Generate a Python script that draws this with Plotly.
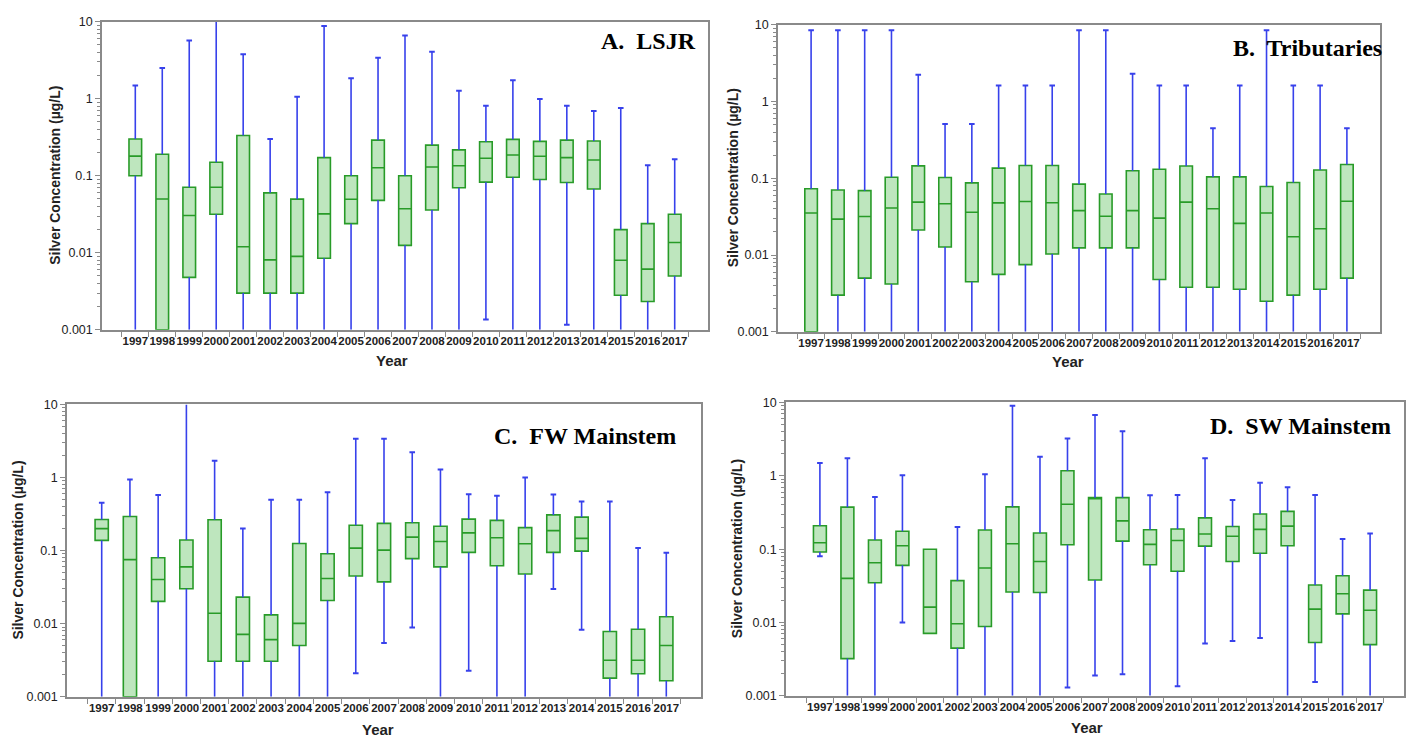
import plotly.graph_objects as go

years = [str(y) for y in range(1997, 2018)]

# ---- Panel A: LSJR ----
a_upper = [1.49, 2.5, 5.7, 10, 3.77, 0.30, 1.06, 8.8, 1.85, 3.4, 6.6, 4.07, 1.27, 0.81, 1.74, 0.99, 0.81, 0.695, 0.76, 0.137, 0.164]
a_q3    = [0.30, 0.19, 0.071, 0.15, 0.334, 0.06, 0.0497, 0.172, 0.1, 0.29, 0.1, 0.25, 0.217, 0.277, 0.297, 0.28, 0.29, 0.283, 0.02, 0.0239, 0.0317]
a_med   = [0.18, 0.05, 0.0305, 0.071, 0.012, 0.0081, 0.009, 0.032, 0.0496, 0.127, 0.0374, 0.13, 0.135, 0.169, 0.186, 0.179, 0.172, 0.16, 0.008, 0.00614, 0.0136]
a_q1    = [0.1, 0.001, 0.0048, 0.0317, 0.003, 0.003, 0.003, 0.0085, 0.0239, 0.048, 0.0125, 0.036, 0.07, 0.0826, 0.0955, 0.0893, 0.0818, 0.0673, 0.00281, 0.00233, 0.005]
a_lower = [0.001, 0.001, 0.001, 0.001, 0.001, 0.001, 0.001, 0.001, 0.001, 0.001, 0.001, 0.001, 0.001, 0.00136, 0.001, 0.001, 0.00116, 0.001, 0.001, 0.001, 0.001]

# ---- Panel B: Tributaries ----
b_upper = [8.46, 8.46, 8.46, 8.46, 2.23, 0.51, 0.51, 1.61, 1.61, 1.61, 8.46, 8.46, 2.3, 1.61, 1.61, 0.449, 1.61, 8.46, 1.61, 1.61, 0.449]
b_q3    = [0.073, 0.0703, 0.0689, 0.103, 0.145, 0.102, 0.087, 0.1355, 0.1465, 0.1465, 0.0837, 0.0624, 0.125, 0.131, 0.144, 0.104, 0.104, 0.078, 0.088, 0.128, 0.151]
b_med   = [0.0353, 0.0293, 0.0317, 0.041, 0.0489, 0.0465, 0.036, 0.0478, 0.0497, 0.048, 0.0379, 0.032, 0.0379, 0.0302, 0.0489, 0.0401, 0.0258, 0.0353, 0.0173, 0.022, 0.0502]
b_q1    = [0.001, 0.003, 0.005, 0.0042, 0.0212, 0.0127, 0.00449, 0.0056, 0.0075, 0.0103, 0.0124, 0.0124, 0.0124, 0.0048, 0.0038, 0.0038, 0.00358, 0.0025, 0.003, 0.00358, 0.005]
b_lower = [0.001] * 21

# ---- Panel C: FW Mainstem ----
c_upper = [0.452, 0.94, 0.578, 10, 1.70, 0.2, 0.496, 0.496, 0.628, 3.4, 3.4, 2.22, 1.29, 0.59, 0.561, 1.0, 0.584, 0.471, 0.471, 0.109, 0.0935]
c_q3    = [0.267, 0.293, 0.08, 0.14, 0.264, 0.0231, 0.0132, 0.125, 0.0908, 0.222, 0.236, 0.241, 0.215, 0.27, 0.259, 0.206, 0.308, 0.287, 0.00783, 0.0084, 0.01245]
c_med   = [0.2, 0.0753, 0.0402, 0.06, 0.0139, 0.00714, 0.00606, 0.0101, 0.0415, 0.108, 0.1016, 0.153, 0.133, 0.175, 0.15, 0.124, 0.188, 0.147, 0.00317, 0.00317, 0.00503]
c_q1    = [0.138, 0.001, 0.0202, 0.0301, 0.00307, 0.00307, 0.00307, 0.00503, 0.0208, 0.045, 0.0374, 0.0776, 0.06, 0.0945, 0.062, 0.0479, 0.0945, 0.0984, 0.0018, 0.00207, 0.00166]
c_lower = [0.001, 0.001, 0.001, 0.001, 0.001, 0.001, 0.001, 0.001, 0.001, 0.0021, 0.00546, 0.00885, 0.001, 0.00228, 0.001, 0.001, 0.0298, 0.00824, 0.001, 0.001, 0.001]

# ---- Panel D: SW Mainstem ----
d_upper = [1.5, 1.73, 0.514, 1.02, 0.0996, 0.2, 1.05, 9.0, 1.82, 3.23, 6.77, 4.05, 0.542, 0.547, 1.73, 0.469, 0.807, 0.7, 0.547, 0.137, 0.164]
d_q3    = [0.208, 0.374, 0.133, 0.175, 0.0996, 0.0372, 0.182, 0.377, 0.166, 1.17, 0.504, 0.504, 0.184, 0.188, 0.267, 0.204, 0.301, 0.327, 0.0325, 0.0434, 0.0276]
d_med   = [0.122, 0.0399, 0.0653, 0.111, 0.0162, 0.0096, 0.0554, 0.1186, 0.068, 0.41, 0.504, 0.243, 0.116, 0.131, 0.161, 0.15, 0.186, 0.206, 0.0152, 0.0246, 0.0147]
d_q1    = [0.0916, 0.00322, 0.0349, 0.0601, 0.0071, 0.00448, 0.0088, 0.026, 0.0257, 0.1148, 0.038, 0.1285, 0.0614, 0.05, 0.110, 0.068, 0.0879, 0.1114, 0.00533, 0.0131, 0.005]
d_lower = [0.080, 0.001, 0.001, 0.00997, 0.0071, 0.001, 0.001, 0.001, 0.001, 0.0013, 0.0019, 0.00197, 0.001, 0.00135, 0.00516, 0.0056, 0.00615, 0.001, 0.00154, 0.001, 0.001]

titles = ["A.  LSJR", "B.  Tributaries", "C.  FW Mainstem", "D.  SW Mainstem"]
ytick_vals = [0.001, 0.01, 0.1, 1, 10]
ytick_text = ["0.001", "0.01", "0.1", "1", "10"]

W, H = 1416, 747
BOX_LINE = "rgb(40,155,40)"
BOX_FILL = "rgb(190,230,190)"
WHISK = "rgb(55,65,235)"
FRAME = "#8a8a8a"

# panel geometry in pixels: (left, right, top, bottom)
geo = [(102, 708, 15, 329), (778, 1380, 18, 331), (67, 701, 405, 703), (786, 1404, 403, 702)]
ylab_x = [55, 733, 18, 737]
year_xy = [(392, 360), (1068, 361), (378, 736), (1087, 734)]
title_xy = [(698, 35), (1384, 42), (678, 437), (1393, 427)]

panels = [
    (a_upper, a_q3, a_med, a_q1, a_lower),
    (b_upper, b_q3, b_med, b_q1, b_lower),
    (c_upper, c_q3, c_med, c_q1, c_lower),
    (d_upper, d_q3, d_med, d_q1, d_lower),
]

minor_vals = [m * 10 ** e for e in range(-3, 1) for m in range(2, 10)]

fig = go.Figure()
layout = dict(
    width=W, height=H, margin=dict(l=0, r=0, t=0, b=0),
    paper_bgcolor="white", plot_bgcolor="white",
    showlegend=False, boxgap=0.33, boxmode="overlay",
    font=dict(family="Liberation Sans, Arial", color="#222"),
)
annotations = []

for i, (up, q3, med, q1, lo) in enumerate(panels):
    n = i + 1
    xa = "x" if n == 1 else f"x{n}"
    ya = "y" if n == 1 else f"y{n}"
    L, R, T, B = geo[i]

    # whiskers (q3 -> upper, lower -> q1)
    wx, wy = [], []
    for yr, u, a3, a1, l in zip(years, up, q3, q1, lo):
        if u > a3:
            wx += [yr, yr, None]
            wy += [a3, u, None]
        if l < a1:
            wx += [yr, yr, None]
            wy += [l, a1, None]
    fig.add_trace(go.Scatter(x=wx, y=wy, mode="lines", xaxis=xa, yaxis=ya,
                             line=dict(color=WHISK, width=1.6), hoverinfo="skip"))
    # caps
    cx, cy = [], []
    for yr, u, a3, a1, l in zip(years, up, q3, q1, lo):
        if a3 < u < 10:
            cx.append(yr); cy.append(u)
        if 0.001 < l < a1:
            cx.append(yr); cy.append(l)
    fig.add_trace(go.Scatter(x=cx, y=cy, mode="markers", xaxis=xa, yaxis=ya,
                             marker=dict(symbol="line-ew", size=4,
                                         line=dict(color=WHISK, width=2)),
                             hoverinfo="skip"))
    # boxes
    fig.add_trace(go.Box(x=years, q1=q1, median=med, q3=q3,
                         lowerfence=q1, upperfence=q3,
                         xaxis=xa, yaxis=ya, whiskerwidth=0,
                         fillcolor=BOX_FILL, line=dict(color=BOX_LINE, width=1.6),
                         boxpoints=False))

    xkey = "xaxis" if n == 1 else f"xaxis{n}"
    ykey = "yaxis" if n == 1 else f"yaxis{n}"
    layout[xkey] = dict(
        domain=[L / W, R / W], anchor=ya, type="category",
        categoryorder="array", categoryarray=years,
        showline=True, linecolor=FRAME, linewidth=1.5, mirror=True,
        ticks="outside", tickson="boundaries", ticklen=5, tickcolor=FRAME,
        tickangle=0,
        tickfont=dict(size=11.5, family="Liberation Sans, Arial", color="#222"),
        showgrid=False, zeroline=False,
    )
    layout[ykey] = dict(
        domain=[1 - B / H, 1 - T / H], anchor=xa, type="log", range=[-3, 1],
        tickvals=ytick_vals, ticktext=ytick_text,
        showline=True, linecolor=FRAME, linewidth=1.5, mirror=True,
        ticks="outside", ticklen=5, tickcolor=FRAME,
        minor=dict(tickvals=minor_vals, ticks="outside", ticklen=3, tickcolor=FRAME),
        tickfont=dict(size=12.5, family="Liberation Sans, Arial", color="#222"),
        showgrid=False, zeroline=False,
    )
    annotations.append(dict(
        x=ylab_x[i] / W, y=1 - ((T + B) / 2) / H, xref="paper", yref="paper",
        text="<b>Silver Concentration (µg/L)</b>", textangle=-90, showarrow=False,
        font=dict(size=14, family="Liberation Sans, Arial", color="#222"),
        xanchor="center", yanchor="middle"))
    annotations.append(dict(
        x=year_xy[i][0] / W, y=1 - year_xy[i][1] / H, xref="paper", yref="paper",
        text="<b>Year</b>", showarrow=False,
        font=dict(size=15, family="Liberation Sans, Arial", color="#222"),
        xanchor="center", yanchor="middle"))
    annotations.append(dict(
        x=title_xy[i][0] / W, y=1 - title_xy[i][1] / H, xref="paper", yref="paper",
        text=f"<b>{titles[i]}</b>", showarrow=False,
        font=dict(size=24, family="Liberation Serif, serif", color="black"),
        xanchor="right", yanchor="middle"))

layout["annotations"] = annotations
fig.update_layout(**layout)
# bold tick labels
fig.update_xaxes(tickprefix="<b>", ticksuffix="</b>")
fig.update_yaxes(tickprefix="<b>", ticksuffix="</b>")
fig.write_html("out.html")
